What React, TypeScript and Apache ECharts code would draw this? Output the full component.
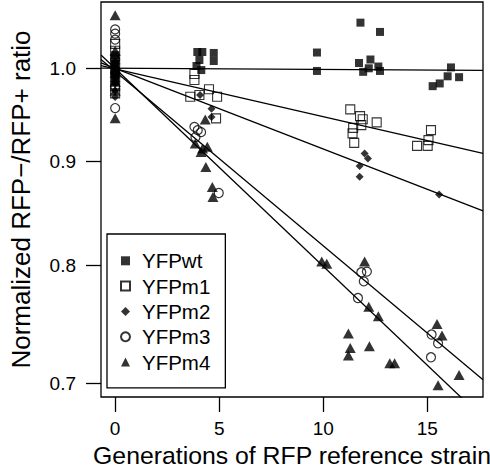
import { useEffect, useRef } from "react";
import * as echarts from "echarts";

// ---- data ----
const SERIES_NAMES = ["YFPwt", "YFPm1", "YFPm2", "YFPm3", "YFPm4"];

const WT_GEN = [0, 0, 0, 0, 0, 0, 0, 0, 3.95, 4.19, 4.05, 3.91, 4.14, 4.74, 4.74, 9.7, 9.7, 11.79, 12.73, 11.72, 12.27, 11.92, 12.65, 12.73, 12.19, 15.26, 15.6, 15.98, 16.14, 16.53];
const WT_RATIO = [1.015, 1.01, 1.005, 1.0, 0.997, 0.993, 0.99, 0.985, 1.0186, 1.0186, 1.0094, 1.0026, 0.998, 1.0175, 1.0083, 1.018, 0.997, 1.053, 1.042, 1.006, 1.01, 0.996, 1.002, 0.997, 1.0, 0.98, 0.983, 0.991, 1.001, 0.99];

const M1_GEN = [0, 0, 0, 0, 0, 0, 0, 3.81, 3.81, 3.61, 4.05, 4.51, 4.9, 4.85, 11.3, 11.77, 11.83, 12.57, 11.44, 11.41, 11.49, 11.9, 15.18, 14.51, 15.02, 15.06];
const M1_RATIO = [1.028, 1.02, 1.01, 1.0, 0.99, 0.98, 0.972, 0.9868, 0.9936, 0.9683, 0.9702, 0.9765, 0.9683, 0.9449, 0.9546, 0.9473, 0.9377, 0.9406, 0.9348, 0.929, 0.9191, 0.944, 0.9324, 0.916, 0.916, 0.9219];

const M2_GEN = [0, 0, 0, 0, 0, 0, 0, 4.63, 4.63, 4.08, 11.99, 12.15, 11.75, 11.75, 15.57];
const M2_RATIO = [1.008, 1.0, 0.995, 0.99, 0.983, 0.975, 0.968, 0.9552, 0.9463, 0.9702, 0.9082, 0.9029, 0.8954, 0.8844, 0.867];

const M3_GEN = [0, 0, 0, 0, 0, 0, 0, 3.81, 3.97, 4.13, 3.86, 4.98, 11.83, 12.1, 11.95, 11.67, 15.21, 15.52, 15.18];
const M3_RATIO = [1.045, 1.04, 1.033, 1.01, 0.995, 0.98, 0.956, 0.9359, 0.9324, 0.9303, 0.925, 0.8684, 0.7939, 0.7945, 0.7858, 0.7711, 0.7399, 0.7326, 0.7211];

const M4_GEN = [0, 0, 0, 0, 0, 0, 0, 4.33, 3.85, 4.2, 4.43, 4.13, 4.36, 4.67, 4.7, 9.93, 10.17, 11.99, 12.19, 12.65, 11.21, 11.3, 11.21, 12.22, 13.2, 13.43, 15.47, 15.71, 16.53, 15.52];
const M4_RATIO = [1.062, 1.02, 1.005, 0.995, 0.985, 0.975, 0.945, 0.9438, 0.9184, 0.9133, 0.915, 0.9097, 0.8944, 0.8743, 0.8644, 0.8037, 0.8016, 0.8037, 0.7636, 0.7553, 0.7408, 0.7288, 0.7225, 0.7301, 0.7162, 0.7162, 0.7488, 0.739, 0.7067, 0.6987];

// fitted lines: ratio at generation 0, and log10 change per generation
const FIT_INTERCEPT = [1.0, 0.9993, 1.0, 0.9965, 0.9998];
const FIT_SLOPE_LOG10 = [-0.00006, -0.00235, -0.00396, -0.00857, -0.00972];

const X_TICKS = [0, 5, 10, 15];
const Y_TICKS = [0.7, 0.8, 0.9, 1.0];
const X_RANGE = [-0.68, 17.68];
const Y_RANGE = [0.6894, 1.0779];

const X_TITLE = "Generations of RFP reference strain";
const Y_TITLE = "Normalized RFP\u2212/RFP+ ratio";

const FONT = "Liberation Sans, Arial, Helvetica, sans-serif";

export default function App() {
  const ref = useRef<HTMLDivElement>(null);
  useEffect(() => {
    if (!ref.current) return;
    const chart = echarts.init(ref.current, undefined, { renderer: "svg" });
    const lg = Math.log10;
    const gens = [WT_GEN, M1_GEN, M2_GEN, M3_GEN, M4_GEN];
    const ratios = [WT_RATIO, M1_RATIO, M2_RATIO, M3_RATIO, M4_RATIO];
    const styles: any[] = [
      { symbol: "rect", symbolSize: 8, itemStyle: { color: "#000" } },
      { symbol: "rect", symbolSize: 9, itemStyle: { color: "rgba(0,0,0,0)", borderColor: "#000", borderWidth: 1.1 } },
      { symbol: "diamond", symbolSize: 8, itemStyle: { color: "#000" } },
      { symbol: "circle", symbolSize: 9, itemStyle: { color: "rgba(0,0,0,0)", borderColor: "#000", borderWidth: 1.2 } },
      { symbol: "triangle", symbolSize: [11, 10], itemStyle: { color: "#000" } },
    ];
    const scatter = SERIES_NAMES.map((name, i) => ({
      name,
      type: "scatter",
      ...styles[i],
      data: gens[i].map((g, j) => [g, lg(ratios[i][j])]),
      z: 2,
    }));
    const lines = FIT_INTERCEPT.map((b, i) => ({
      type: "line",
      showSymbol: false,
      symbol: "none",
      silent: true,
      lineStyle: { color: "#000", width: 1.3 },
      data: X_RANGE.map((x) => [x, lg(b) + FIT_SLOPE_LOG10[i] * x]),
      z: 3,
    }));
    chart.setOption({
      animation: false,
      backgroundColor: "#fff",
      textStyle: { fontFamily: FONT },
      grid: {
        left: 88,
        top: 2,
        width: 395,
        height: 395,
        show: true,
        borderColor: "#000",
        borderWidth: 1.3,
        backgroundColor: "transparent",
      },
      legend: {
        orient: "vertical",
        left: 107,
        top: 234,
        data: SERIES_NAMES,
        itemWidth: 9,
        itemHeight: 9,
        itemGap: 4.3,
        padding: [16.3, 15, 15.3, 13],
        borderColor: "#000",
        borderWidth: 1.3,
        borderRadius: 0,
        backgroundColor: "#fff",
        textStyle: {
          fontFamily: FONT,
          fontSize: 20.5,
          color: "#000",
          lineHeight: 18,
          padding: [0, 0, 0, 7],
        },
      },
      xAxis: {
        type: "value",
        min: X_RANGE[0],
        max: X_RANGE[1],
        name: X_TITLE,
        nameLocation: "middle",
        nameGap: 46,
        nameTextStyle: { fontFamily: FONT, fontSize: 24.8, color: "#000" },
        axisLine: { show: false, onZero: false },
        axisTick: {
          show: true,
          inside: false,
          length: 15,
          customValues: X_TICKS,
          lineStyle: { color: "#000", width: 1.3 },
        },
        axisLabel: {
          customValues: X_TICKS,
          margin: 22,
          fontFamily: FONT,
          fontSize: 19,
          color: "#000",
          formatter: (v: number) => String(Math.round(v)),
        },
        splitLine: { show: false },
      },
      yAxis: {
        type: "value",
        min: lg(Y_RANGE[0]),
        max: lg(Y_RANGE[1]),
        name: Y_TITLE,
        nameLocation: "middle",
        nameGap: 67,
        nameRotate: 90,
        nameTextStyle: { fontFamily: FONT, fontSize: 26, color: "#000" },
        axisLine: { show: false, onZero: false },
        axisTick: {
          show: true,
          inside: false,
          length: 15,
          customValues: Y_TICKS.map(lg),
          lineStyle: { color: "#000", width: 1.3 },
        },
        axisLabel: {
          customValues: Y_TICKS.map(lg),
          margin: 25,
          fontFamily: FONT,
          fontSize: 19,
          color: "#000",
          formatter: (v: number) => Math.pow(10, v).toFixed(1),
        },
        splitLine: { show: false },
      },
      series: [...scatter, ...lines],
    });
    return () => chart.dispose();
  }, []);
  return (
    <div
      ref={ref}
      style={{ position: "fixed", left: 0, top: 0, width: 490, height: 476 }}
    />
  );
}
